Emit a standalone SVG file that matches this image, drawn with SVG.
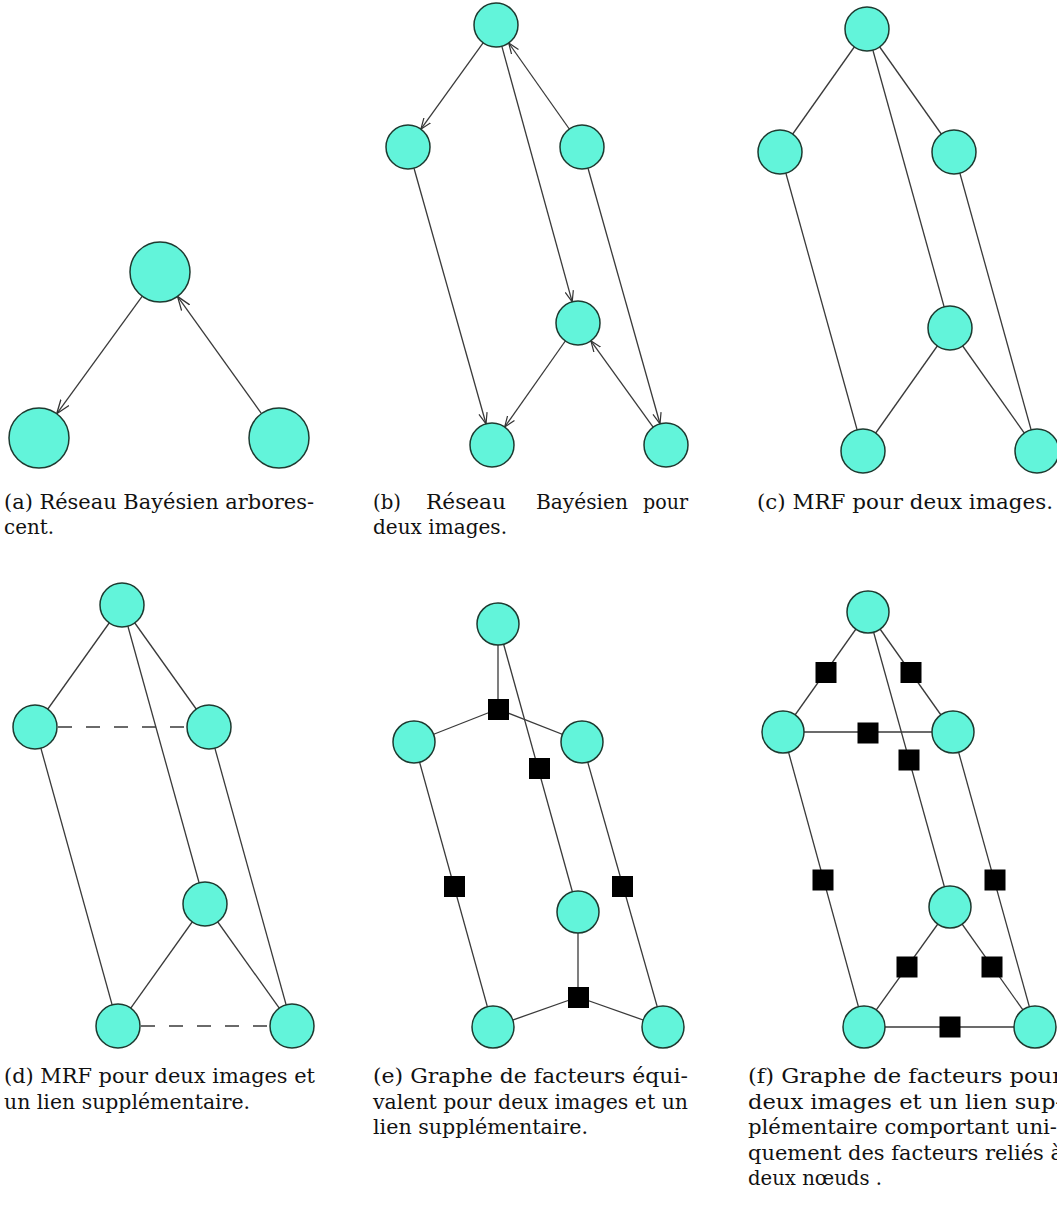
<svg xmlns="http://www.w3.org/2000/svg" width="1057" height="1207" viewBox="0 0 1057 1207">
<style>
.n{fill:#62F4DA;stroke:#1E3A30;stroke-width:1.5}
.e{stroke:#3a3a3a;stroke-width:1.3;fill:none}
.d{stroke-dasharray:14 14}
.f{fill:#000}
.cap{font-family:"DejaVu Serif",serif;font-size:20px;fill:#111}
</style>
<defs>
<marker id="ah" markerWidth="13" markerHeight="11" refX="11" refY="5" orient="auto" markerUnits="userSpaceOnUse"><path d="M0,0.8 L11,5 L0,9.2" fill="none" stroke="#333" stroke-width="1.2"/></marker>
<marker id="ahL" markerWidth="16" markerHeight="13" refX="14" refY="6" orient="auto" markerUnits="userSpaceOnUse"><path d="M0,1 L14,6 L0,11" fill="none" stroke="#333" stroke-width="1.3"/></marker>
</defs>
<rect width="1057" height="1207" fill="#fff"/>

<g id="connectors">
<!-- panel a -->
<line class="e" x1="142.3" y1="296.2" x2="56.7" y2="413.8" marker-end="url(#ahL)"/>
<line class="e" x1="261.5" y1="413.6" x2="177.5" y2="296.4" marker-end="url(#ahL)"/>
<!-- panel b -->
<line class="e" x1="483.1" y1="42.8" x2="420.9" y2="129.2" marker-end="url(#ah)"/>
<line class="e" x1="501.8" y1="46.2" x2="572.2" y2="301.8" marker-end="url(#ah)"/>
<line class="e" x1="569.3" y1="129.0" x2="508.7" y2="43.0" marker-end="url(#ah)"/>
<line class="e" x1="414.0" y1="168.2" x2="486.0" y2="423.8" marker-end="url(#ah)"/>
<line class="e" x1="588.0" y1="168.2" x2="660.0" y2="423.8" marker-end="url(#ah)"/>
<line class="e" x1="565.3" y1="341.0" x2="504.7" y2="427.0" marker-end="url(#ah)"/>
<line class="e" x1="653.1" y1="427.2" x2="590.9" y2="340.8" marker-end="url(#ah)"/>
<!-- panel c -->
<line class="e" x1="867" y1="29" x2="780" y2="152"/>
<line class="e" x1="867" y1="29" x2="954" y2="152"/>
<line class="e" x1="867" y1="29" x2="950" y2="328"/>
<line class="e" x1="780" y1="152" x2="863" y2="451"/>
<line class="e" x1="954" y1="152" x2="1037" y2="451"/>
<line class="e" x1="950" y1="328" x2="863" y2="451"/>
<line class="e" x1="950" y1="328" x2="1037" y2="451"/>
<!-- panel d -->
<line class="e" x1="122" y1="605" x2="35" y2="727"/>
<line class="e" x1="122" y1="605" x2="209" y2="727"/>
<line class="e" x1="122" y1="605" x2="205" y2="904"/>
<line class="e" x1="35" y1="727" x2="118" y2="1026"/>
<line class="e" x1="209" y1="727" x2="292" y2="1026"/>
<line class="e" x1="205" y1="904" x2="118" y2="1026"/>
<line class="e" x1="205" y1="904" x2="292" y2="1026"/>
<line class="e d" x1="58" y1="727" x2="187" y2="727"/>
<line class="e d" x1="141" y1="1026" x2="270" y2="1026"/>
<!-- panel e -->
<line class="e" x1="498" y1="624" x2="498" y2="709"/>
<line class="e" x1="498" y1="709" x2="414" y2="742"/>
<line class="e" x1="498" y1="709" x2="582" y2="742"/>
<line class="e" x1="498" y1="624" x2="578" y2="912"/>
<line class="e" x1="414" y1="742" x2="493" y2="1027"/>
<line class="e" x1="582" y1="742" x2="663" y2="1027"/>
<line class="e" x1="578" y1="912" x2="578" y2="997"/>
<line class="e" x1="578" y1="997" x2="493" y2="1027"/>
<line class="e" x1="578" y1="997" x2="663" y2="1027"/>
<!-- panel f -->
<line class="e" x1="868" y1="612" x2="783" y2="732"/>
<line class="e" x1="868" y1="612" x2="953" y2="732"/>
<line class="e" x1="783" y1="732" x2="953" y2="732"/>
<line class="e" x1="868" y1="612" x2="950" y2="907"/>
<line class="e" x1="783" y1="732" x2="864" y2="1027"/>
<line class="e" x1="953" y1="732" x2="1035" y2="1027"/>
<line class="e" x1="950" y1="907" x2="864" y2="1027"/>
<line class="e" x1="950" y1="907" x2="1035" y2="1027"/>
<line class="e" x1="864" y1="1027" x2="1035" y2="1027"/>
</g>

<g id="panel-a">
<g id="a-top"><circle class="n" cx="160" cy="272" r="30"/></g>
<g id="a-left"><circle class="n" cx="39" cy="438" r="30"/></g>
<g id="a-right"><circle class="n" cx="279" cy="438" r="30"/></g>
</g>
<g id="panel-b">
<g id="b-top"><circle class="n" cx="496" cy="25" r="22"/></g>
<g id="b-ml"><circle class="n" cx="408" cy="147" r="22"/></g>
<g id="b-mr"><circle class="n" cx="582" cy="147" r="22"/></g>
<g id="b-c"><circle class="n" cx="578" cy="323" r="22"/></g>
<g id="b-bl"><circle class="n" cx="492" cy="445" r="22"/></g>
<g id="b-br"><circle class="n" cx="666" cy="445" r="22"/></g>
</g>
<g id="panel-c">
<g id="c-top"><circle class="n" cx="867" cy="29" r="22"/></g>
<g id="c-ml"><circle class="n" cx="780" cy="152" r="22"/></g>
<g id="c-mr"><circle class="n" cx="954" cy="152" r="22"/></g>
<g id="c-c"><circle class="n" cx="950" cy="328" r="22"/></g>
<g id="c-bl"><circle class="n" cx="863" cy="451" r="22"/></g>
<g id="c-br"><circle class="n" cx="1037" cy="451" r="22"/></g>
</g>
<g id="panel-d">
<g id="d-top"><circle class="n" cx="122" cy="605" r="22"/></g>
<g id="d-ml"><circle class="n" cx="35" cy="727" r="22"/></g>
<g id="d-mr"><circle class="n" cx="209" cy="727" r="22"/></g>
<g id="d-c"><circle class="n" cx="205" cy="904" r="22"/></g>
<g id="d-bl"><circle class="n" cx="118" cy="1026" r="22"/></g>
<g id="d-br"><circle class="n" cx="292" cy="1026" r="22"/></g>
</g>
<g id="panel-e">
<g id="e-top"><circle class="n" cx="498" cy="624" r="21"/></g>
<g id="e-ml"><circle class="n" cx="414" cy="742" r="21"/></g>
<g id="e-mr"><circle class="n" cx="582" cy="742" r="21"/></g>
<g id="e-c"><circle class="n" cx="578" cy="912" r="21"/></g>
<g id="e-bl"><circle class="n" cx="493" cy="1027" r="21"/></g>
<g id="e-br"><circle class="n" cx="663" cy="1027" r="21"/></g>
<g id="e-f1"><rect class="f" x="488" y="699" width="21" height="21"/></g>
<g id="e-f2"><rect class="f" x="529" y="758" width="21" height="21"/></g>
<g id="e-f3"><rect class="f" x="444" y="876" width="21" height="21"/></g>
<g id="e-f4"><rect class="f" x="612" y="876" width="21" height="21"/></g>
<g id="e-f5"><rect class="f" x="568" y="987" width="21" height="21"/></g>
</g>
<g id="panel-f">
<g id="f-top"><circle class="n" cx="868" cy="612" r="21"/></g>
<g id="f-ml"><circle class="n" cx="783" cy="732" r="21"/></g>
<g id="f-mr"><circle class="n" cx="953" cy="732" r="21"/></g>
<g id="f-c"><circle class="n" cx="950" cy="907" r="21"/></g>
<g id="f-bl"><circle class="n" cx="864" cy="1027" r="21"/></g>
<g id="f-br"><circle class="n" cx="1035" cy="1027" r="21"/></g>
<g id="f-f1"><rect class="f" x="815.5" y="662" width="21" height="21"/></g>
<g id="f-f2"><rect class="f" x="900.5" y="662" width="21" height="21"/></g>
<g id="f-f3"><rect class="f" x="857.5" y="722.5" width="21" height="21"/></g>
<g id="f-f4"><rect class="f" x="898.5" y="749.5" width="21" height="21"/></g>
<g id="f-f5"><rect class="f" x="812.5" y="869.5" width="21" height="21"/></g>
<g id="f-f6"><rect class="f" x="984.5" y="869.5" width="21" height="21"/></g>
<g id="f-f7"><rect class="f" x="896.5" y="956.5" width="21" height="21"/></g>
<g id="f-f8"><rect class="f" x="981.5" y="956.5" width="21" height="21"/></g>
<g id="f-f9"><rect class="f" x="939.5" y="1016.5" width="21" height="21"/></g>
</g>

<g id="captions" class="cap">
<text x="4" y="509" textLength="310" lengthAdjust="spacingAndGlyphs">(a) Réseau Bayésien arbores-</text>
<text x="4" y="534" textLength="50" lengthAdjust="spacingAndGlyphs">cent.</text>
<text x="373" y="509" textLength="28" lengthAdjust="spacingAndGlyphs">(b)</text>
<text x="426" y="509" textLength="80" lengthAdjust="spacingAndGlyphs">Réseau</text>
<text x="536" y="509" textLength="92" lengthAdjust="spacingAndGlyphs">Bayésien</text>
<text x="643" y="509" textLength="45" lengthAdjust="spacingAndGlyphs">pour</text>
<text x="373" y="534" textLength="134" lengthAdjust="spacingAndGlyphs">deux images.</text>
<text x="757" y="509" textLength="296" lengthAdjust="spacingAndGlyphs">(c) MRF pour deux images.</text>
<text x="4" y="1083" textLength="311" lengthAdjust="spacingAndGlyphs">(d) MRF pour deux images et</text>
<text x="4" y="1108.5" textLength="246" lengthAdjust="spacingAndGlyphs">un lien supplémentaire.</text>
<text x="373" y="1083" textLength="315" lengthAdjust="spacingAndGlyphs">(e) Graphe de facteurs équi-</text>
<text x="373" y="1108.5" textLength="315" lengthAdjust="spacingAndGlyphs">valent pour deux images et un</text>
<text x="373" y="1134" textLength="215" lengthAdjust="spacingAndGlyphs">lien supplémentaire.</text>
<text x="748" y="1083" textLength="315" lengthAdjust="spacingAndGlyphs">(f) Graphe de facteurs pour</text>
<text x="748" y="1108.5" textLength="315" lengthAdjust="spacingAndGlyphs">deux images et un lien sup-</text>
<text x="748" y="1134" textLength="309" lengthAdjust="spacingAndGlyphs">plémentaire comportant uni-</text>
<text x="748" y="1159.5" textLength="315" lengthAdjust="spacingAndGlyphs">quement des facteurs reliés à</text>
<text x="748" y="1185" textLength="134" lengthAdjust="spacingAndGlyphs">deux nœuds .</text>
</g>
</svg>
